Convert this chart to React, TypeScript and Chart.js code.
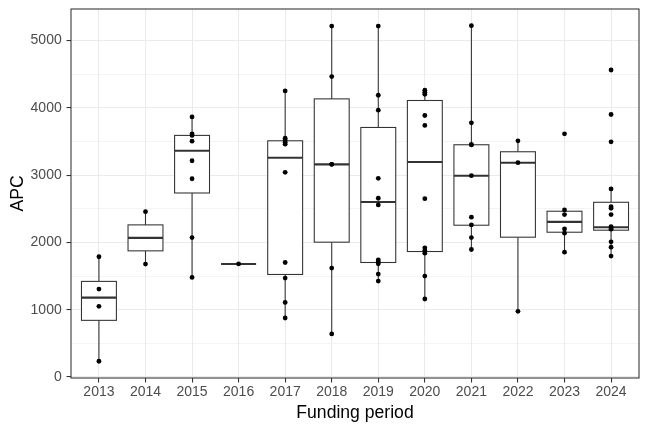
import React, { useEffect, useRef } from "react";
import { Chart, registerables } from "chart.js";

Chart.register(...registerables);

const years = ["2013", "2014", "2015", "2016", "2017", "2018", "2019", "2020", "2021", "2022", "2023", "2024"];

// box statistics
const q1 = [842, 1875, 2735, 1680, 1524, 2004, 1702, 1865, 2256, 2078, 2152, 2182];
const median = [1179, 2068, 3363, 1680, 3259, 3161, 2602, 3195, 2992, 3185, 2305, 2226];
const q3 = [1421, 2261, 3591, 1680, 3511, 4134, 3709, 4110, 3452, 3348, 2464, 2597];
const whiskerLow = [234, 1678, 1480, 1680, 877, 640, 1426, 1159, 1895, 976, 1856, 1797];
const whiskerHigh = [1787, 2458, 3866, 1680, 4252, 5216, 5216, 4262, 5222, 3511, 2483, 2795];

// individual APC values per funding period
const apc2013 = [1787, 1307, 1050, 234];
const apc2014 = [2458, 1678];
const apc2015 = [3866, 3615, 3591, 3506, 3214, 2947, 2073, 1480];
const apc2016 = [1680];
const apc2017 = [4252, 3550, 3521, 3490, 3461, 3042, 1702, 1471, 1109, 877];
const apc2018 = [5216, 4466, 3161, 3161, 1619, 640];
const apc2019 = [5216, 4188, 3966, 2953, 2657, 2557, 1742, 1712, 1683, 1530, 1426];
const apc2020 = [4262, 4233, 4203, 3887, 3739, 2651, 1920, 1880, 1841, 1500, 1159];
const apc2021 = [5222, 3778, 3452, 3452, 2992, 2375, 2261, 2073, 1895];
const apc2022 = [3511, 3185, 976];
const apc2023 = [3615, 2483, 2414, 2201, 2138, 1856];
const apc2024 = [4563, 3902, 3496, 2795, 2532, 2508, 2414, 2236, 2216, 2197, 2009, 1930, 1797];

const apcByYear = [apc2013, apc2014, apc2015, apc2016, apc2017, apc2018, apc2019, apc2020, apc2021, apc2022, apc2023, apc2024];

const yTicks = [0, 500, 1000, 1500, 2000, 2500, 3000, 3500, 4000, 4500, 5000];

const FONT = "'Liberation Sans', Arial, sans-serif";
const LINE = "#333333";

const boxPlugin = {
  id: "boxes",
  beforeDatasetsDraw(chart: any) {
    const xs = chart.scales.x;
    const ys = chart.scales.y;
    const ctx = chart.ctx;
    ctx.save();
    for (let i = 0; i < years.length; i++) {
      const cx = xs.getPixelForValue(i);
      const l = xs.getPixelForValue(i - 0.375);
      const r = xs.getPixelForValue(i + 0.375);
      const pq1 = ys.getPixelForValue(q1[i]);
      const pq3 = ys.getPixelForValue(q3[i]);
      const pm = ys.getPixelForValue(median[i]);
      const plo = ys.getPixelForValue(whiskerLow[i]);
      const phi = ys.getPixelForValue(whiskerHigh[i]);
      ctx.strokeStyle = LINE;
      ctx.lineWidth = 1.07;
      ctx.beginPath();
      ctx.moveTo(cx, pq3);
      ctx.lineTo(cx, phi);
      ctx.moveTo(cx, pq1);
      ctx.lineTo(cx, plo);
      ctx.stroke();
      ctx.fillStyle = "#ffffff";
      ctx.fillRect(l, pq3, r - l, pq1 - pq3);
      ctx.strokeRect(l, pq3, r - l, pq1 - pq3);
      ctx.lineWidth = 2.13;
      ctx.beginPath();
      ctx.moveTo(l, pm);
      ctx.lineTo(r, pm);
      ctx.stroke();
    }
    ctx.restore();
  },
  afterDatasetsDraw(chart: any) {
    const { left, top, right, bottom } = chart.chartArea;
    const ctx = chart.ctx;
    ctx.save();
    ctx.strokeStyle = LINE;
    ctx.lineWidth = 1.07;
    ctx.strokeRect(left, top, right - left, bottom - top);
    ctx.restore();
  },
};

export default function App() {
  const ref = useRef<HTMLCanvasElement>(null);
  useEffect(() => {
    document.body.style.margin = "0";
    const points: { x: number; y: number }[] = [];
    apcByYear.forEach((vals, i) => vals.forEach((v) => points.push({ x: i, y: v })));
    const chart = new Chart(ref.current as HTMLCanvasElement, {
      type: "scatter",
      data: {
        datasets: [
          {
            data: points,
            backgroundColor: "#000000",
            borderWidth: 0,
            pointRadius: 2.4,
            pointHoverRadius: 2.4,
          },
        ],
      },
      options: {
        animation: false,
        responsive: false,
        events: [],
        layout: { padding: { top: 9, right: 9, left: 0, bottom: 0 } },
        plugins: { legend: { display: false }, tooltip: { enabled: false } },
        scales: {
          x: {
            type: "linear",
            min: -0.6,
            max: 11.6,
            afterBuildTicks: (s: any) => {
              s.ticks = years.map((_, i) => ({ value: i }));
            },
            afterFit: (s: any) => {
              s.height = 54;
              s.paddingLeft = 0;
              s.paddingRight = 0;
            },
            ticks: {
              callback: (v: any) => years[v as number] ?? "",
              color: "#4d4d4d",
              font: { family: FONT, size: 14 },
              padding: 1,
              maxRotation: 0,
              autoSkip: false,
            },
            grid: { color: "#ebebeb", lineWidth: 1.07, tickLength: 4.5, tickColor: LINE },
            border: { display: false },
            title: {
              display: true,
              text: "Funding period",
              color: "#000000",
              font: { family: FONT, size: 17.6 },
              padding: { top: 0, bottom: 8.4 },
            },
          },
          y: {
            type: "linear",
            min: -15,
            max: 5470,
            afterBuildTicks: (s: any) => {
              s.ticks = yTicks.map((v) => ({ value: v }));
            },
            afterFit: (s: any) => {
              s.width = 71;
              s.paddingTop = 0;
              s.paddingBottom = 0;
            },
            ticks: {
              callback: (v: any) => ((v as number) % 1000 === 0 ? String(v) : ""),
              color: "#4d4d4d",
              font: { family: FONT, size: 14 },
              padding: 4.8,
            },
            grid: {
              color: "#ebebeb",
              lineWidth: (c: any) => (c.tick && c.tick.value % 1000 === 0 ? 1.07 : 0.53),
              tickLength: 4.5,
              tickColor: (c: any) => (c.tick && c.tick.value % 1000 === 0 ? LINE : "rgba(0,0,0,0)"),
            },
            border: { display: false },
            title: {
              display: true,
              text: "APC",
              color: "#000000",
              font: { family: FONT, size: 17.6 },
              padding: { top: 8, bottom: 0 },
            },
          },
        },
      },
      plugins: [boxPlugin],
    });
    return () => chart.destroy();
  }, []);
  return (
    <div style={{ width: 648, height: 432 }}>
      <canvas ref={ref} width={648} height={432} />
    </div>
  );
}
